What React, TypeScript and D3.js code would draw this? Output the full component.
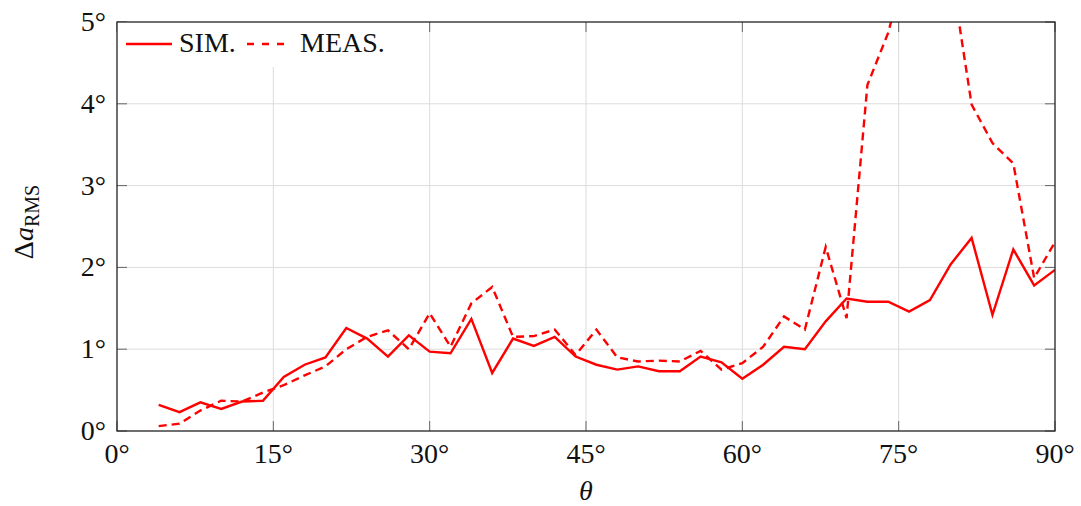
import React from "react";
import * as d3 from "d3";

const theta = [4, 6, 8, 10, 12, 14, 16, 18, 20, 22, 24, 26, 28, 30, 32, 34, 36, 38, 40, 42, 44, 46, 48, 50, 52, 54, 56, 58, 60, 62, 64, 66, 68, 70, 72, 74, 76, 78, 80, 82, 84, 86, 88, 90];
const sim = [0.32, 0.23, 0.35, 0.27, 0.36, 0.37, 0.66, 0.81, 0.90, 1.26, 1.13, 0.91, 1.17, 0.97, 0.95, 1.37, 0.71, 1.13, 1.04, 1.15, 0.91, 0.81, 0.75, 0.79, 0.73, 0.73, 0.91, 0.84, 0.64, 0.81, 1.03, 1.00, 1.34, 1.62, 1.58, 1.58, 1.46, 1.60, 2.04, 2.36, 1.42, 2.22, 1.78, 1.97];
const meas = [0.06, 0.09, 0.25, 0.37, 0.36, 0.47, 0.56, 0.68, 0.79, 1.00, 1.15, 1.23, 1.00, 1.44, 1.03, 1.56, 1.76, 1.15, 1.16, 1.24, 0.93, 1.24, 0.90, 0.85, 0.86, 0.85, 0.98, 0.75, 0.83, 1.03, 1.40, 1.24, 2.25, 1.38, 4.23, 4.87, 5.85, 6.2, 5.65, 3.99, 3.52, 3.27, 1.87, 2.31];
const xTicks = [0, 15, 30, 45, 60, 75, 90];
const yTicks = [0, 1, 2, 3, 4, 5];

const W = 1081, H = 506;
const L = 117, R = 1055, T = 22, B = 431;
const FONT = "Liberation Serif, DejaVu Serif";

export default function App() {
  const x = d3.scaleLinear().domain([0, 90]).range([L, R]);
  const y = d3.scaleLinear().domain([0, 5]).range([B, T]);
  const line = d3.line<number>().x((_, i) => x(theta[i])).y((d) => y(d));
  const tick = 10;
  return (
    <svg width={W} height={H} style={{ position: "absolute", left: 0, top: 0, background: "#fff" }}>
      <defs>
        <clipPath id="plot">
          <rect x={L} y={T} width={R - L} height={B - T} />
        </clipPath>
      </defs>
      <rect x={0} y={0} width={W} height={H} fill="#fff" />
      {xTicks.slice(1, -1).map((t) => (
        <line key={"gx" + t} x1={x(t)} x2={x(t)} y1={T} y2={B} stroke="#dcdcdc" strokeWidth={1} />
      ))}
      {yTicks.slice(1, -1).map((t) => (
        <line key={"gy" + t} x1={L} x2={R} y1={y(t)} y2={y(t)} stroke="#dcdcdc" strokeWidth={1} />
      ))}
      <g clipPath="url(#plot)">
        <path d={line(sim) || ""} fill="none" stroke="#ff0000" strokeWidth={2.4} strokeLinejoin="miter" />
        <path d={line(meas) || ""} fill="none" stroke="#ff0000" strokeWidth={2.4} strokeDasharray="8,5" strokeLinejoin="miter" />
      </g>
      {xTicks.map((t) => (
        <g key={"tx" + t}>
          <line x1={x(t)} x2={x(t)} y1={B} y2={B - tick} stroke="#666" strokeWidth={1} />
          <line x1={x(t)} x2={x(t)} y1={T} y2={T + tick} stroke="#666" strokeWidth={1} />
        </g>
      ))}
      {yTicks.map((t) => (
        <g key={"ty" + t}>
          <line x1={L} x2={L + tick} y1={y(t)} y2={y(t)} stroke="#666" strokeWidth={1} />
          <line x1={R} x2={R - tick} y1={y(t)} y2={y(t)} stroke="#666" strokeWidth={1} />
        </g>
      ))}
      <rect x={L} y={T} width={288} height={45} fill="#fff" />
      <line x1={126} x2={172} y1={44} y2={44} stroke="#ff0000" strokeWidth={2.4} />
      <text x={179} y={52} fontFamily={FONT} fontSize={28} fill="#111">SIM.</text>
      <line x1={247} x2={287} y1={44} y2={44} stroke="#ff0000" strokeWidth={2.4} strokeDasharray="7,8" />
      <text x={300} y={52} fontFamily={FONT} fontSize={28} fill="#111">MEAS.</text>
      <rect x={L} y={T} width={R - L} height={B - T} fill="none" stroke="#222" strokeWidth={1.3} />
      {xTicks.map((t) => (
        <text key={"lx" + t} x={x(t)} y={463} textAnchor="middle" fontFamily={FONT} fontSize={28} fill="#111">
          {t}°
        </text>
      ))}
      {yTicks.map((t) => (
        <text key={"ly" + t} x={106} y={y(t) + 9} textAnchor="end" fontFamily={FONT} fontSize={28} fill="#111">
          {t}°
        </text>
      ))}
      <text x={586} y={500} textAnchor="middle" fontFamily={FONT} fontSize={28} fontStyle="italic" fill="#111">θ</text>
      <text transform={`translate(33,222) rotate(-90)`} textAnchor="middle" fontFamily={FONT} fontSize={28} fill="#111">
        Δ<tspan fontStyle="italic">a</tspan>
        <tspan fontSize={20} dy={6}>RMS</tspan>
      </text>
    </svg>
  );
}
